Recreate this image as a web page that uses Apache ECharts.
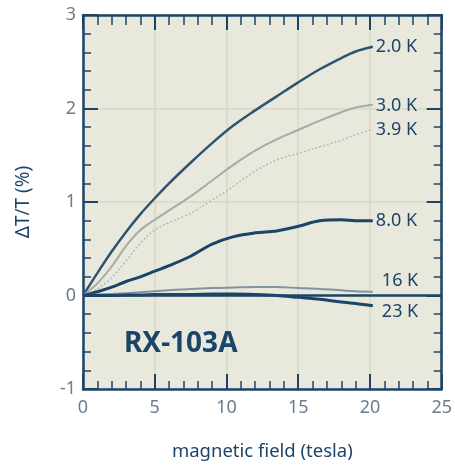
<!DOCTYPE html>
<html>
<head>
<meta charset="utf-8">
<script src="https://cdn.jsdelivr.net/npm/echarts@6/dist/echarts.min.js"></script>
<style>
html,body{margin:0;padding:0;background:#ffffff;}
#chart{width:455px;height:466px;}
</style>
</head>
<body>
<div id="chart"></div>
<script>
// magnetic field (tesla)
const field = [0, 1, 2, 3, 4, 5, 6, 7.5, 9, 10.5, 12, 13.5, 15, 16.5, 18, 19, 20.2];
// ΔT/T (%) for each temperature
const t2_0 = [0, 0.24, 0.47, 0.68, 0.87, 1.04, 1.20, 1.42, 1.63, 1.82, 1.98, 2.13, 2.28, 2.42, 2.54, 2.61, 2.66];
const t3_0 = [0, 0.13, 0.31, 0.53, 0.70, 0.81, 0.91, 1.06, 1.23, 1.40, 1.55, 1.67, 1.77, 1.87, 1.96, 2.01, 2.04];
const t3_9 = [0, 0.07, 0.19, 0.37, 0.56, 0.70, 0.78, 0.88, 1.02, 1.17, 1.33, 1.45, 1.52, 1.59, 1.66, 1.72, 1.78];
const t8_0 = [0, 0.04, 0.09, 0.15, 0.20, 0.26, 0.32, 0.42, 0.55, 0.63, 0.67, 0.69, 0.74, 0.80, 0.81, 0.80, 0.80];
const t16 = [0, 0.01, 0.015, 0.025, 0.035, 0.045, 0.055, 0.07, 0.08, 0.085, 0.09, 0.09, 0.08, 0.07, 0.055, 0.045, 0.04];
const t23 = [0, 0, 0, 0.005, 0.005, 0.01, 0.01, 0.01, 0.015, 0.015, 0.01, 0.0, -0.02, -0.04, -0.07, -0.085, -0.11];
const seriesNames = ['2.0 K', '3.0 K', '3.9 K', '8.0 K', '16 K', '23 K'];
const xTicks = [0, 5, 10, 15, 20, 25];
const yTicks = [-1, 0, 1, 2, 3];

const navy = '#1c4468';
const gray = '#6b7d8c';
const pairs = (ys) => field.map((x, i) => [x, ys[i]]);

const chart = echarts.init(document.getElementById('chart'), null, {renderer: 'canvas'});

function mkX(pos, labels) {
  return {
    type: 'value', position: pos, min: xTicks[0], max: xTicks[xTicks.length - 1], interval: 5,
    axisLine: {show: true, onZero: false, lineStyle: {color: navy, width: 2.5}},
    axisTick: {show: true, inside: true, length: 15, lineStyle: {color: navy, width: 2}},
    minorTick: {show: true, splitNumber: 5, length: labels ? 8 : 10, lineStyle: {color: navy, width: 1.5}},
    axisLabel: {show: labels, color: gray, fontSize: 18, fontFamily: 'Noto Sans', margin: 10},
    splitLine: {show: labels, lineStyle: {color: '#d6d8c3', width: 1.5}},
    name: labels ? 'magnetic field (tesla)' : '', nameLocation: 'middle', nameGap: 53,
    nameTextStyle: {color: navy, fontSize: 18.5, fontFamily: 'Noto Sans'}
  };
}
function mkY(pos, labels) {
  return {
    type: 'value', position: pos, min: yTicks[0], max: yTicks[yTicks.length - 1], interval: 1,
    axisLine: {show: true, onZero: false, lineStyle: {color: navy, width: 2.5}},
    axisTick: {show: true, inside: true, length: 15, lineStyle: {color: navy, width: 2}},
    minorTick: {show: true, splitNumber: 5, length: 8, lineStyle: {color: navy, width: 1.5}},
    axisLabel: {show: labels, color: gray, fontSize: 18, fontFamily: 'Noto Sans', margin: 7},
    splitLine: {show: labels, lineStyle: {color: '#d6d8c3', width: 1.5}},
    name: labels ? 'ΔT/T (%)' : '', nameLocation: 'middle', nameGap: 50, nameRotate: 90,
    nameTextStyle: {color: navy, fontSize: 19, fontFamily: 'Noto Sans'}
  };
}

function line(name, ys, color, width, type, labelOffset) {
  return {
    name: name, type: 'line', xAxisIndex: 0, yAxisIndex: 0, data: pairs(ys),
    smooth: 0.35, showSymbol: false, symbol: 'none',
    lineStyle: {color: color, width: width, type: type},
    endLabel: {show: true, formatter: name, color: navy, fontSize: 18, fontFamily: 'Noto Sans',
      distance: 3, offset: labelOffset},
    z: 3
  };
}

chart.setOption({
  animation: false,
  backgroundColor: '#ffffff',
  title: {
    text: 'RX-103A', left: 119, top: 325,
    textStyle: {color: navy, fontSize: 28, fontWeight: 'bold', fontFamily: 'Noto Sans'}
  },
  grid: {left: 83, right: 11, top: 15, bottom: 76, show: true, backgroundColor: '#e8e9dc', borderWidth: 0},
  xAxis: [mkX('bottom', true), mkX('top', false)],
  yAxis: [mkY('left', true), mkY('right', false)],
  series: [
    line(seriesNames[0], t2_0, '#2f5472', 2.5, 'solid', [0, 0]),
    line(seriesNames[1], t3_0, '#a4aca6', 2, 'solid', [0, 1]),
    line(seriesNames[2], t3_9, '#b7bcb3', 1.5, [2, 2], [0, 1]),
    line(seriesNames[3], t8_0, navy, 3, 'solid', [0, 0]),
    line(seriesNames[4], t16, '#8294a2', 2, 'solid', [6, -11]),
    Object.assign(line(seriesNames[5], t23, navy, 3, 'solid', [6, 6]), {
      markLine: {
        silent: true, symbol: 'none', label: {show: false},
        lineStyle: {color: navy, width: 2.5, type: 'solid'},
        data: [{yAxis: 0}]
      }
    })
  ]
});
</script>
</body>
</html>
